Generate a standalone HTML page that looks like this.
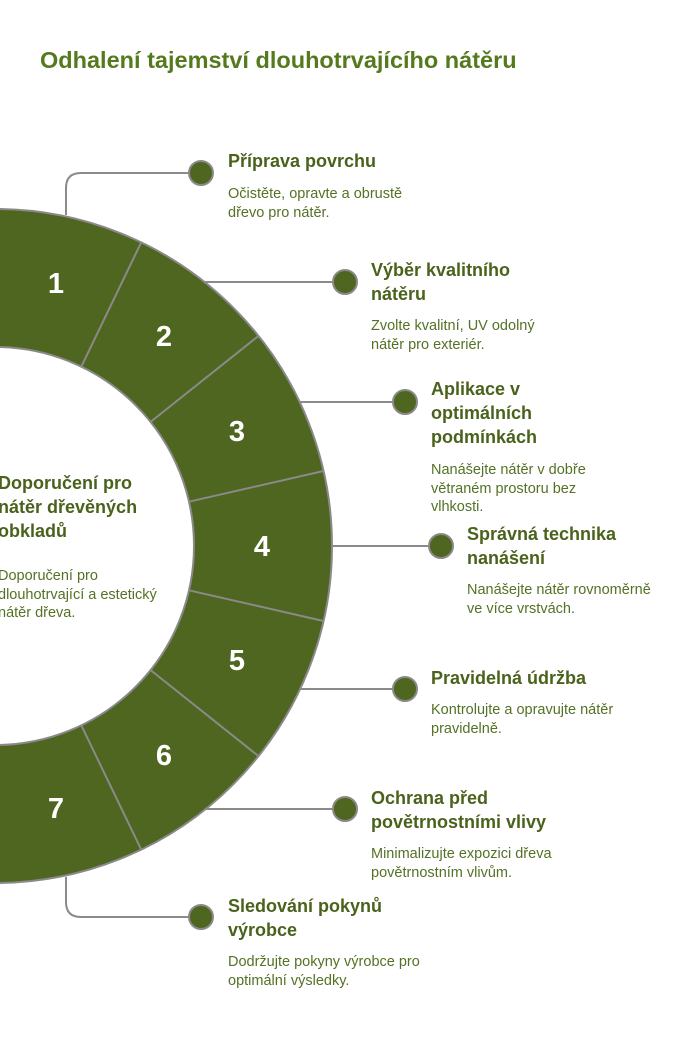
<!DOCTYPE html>
<html><head><meta charset="utf-8"><style>
body{margin:0;width:686px;height:1038px;background:#fff;position:relative;overflow:hidden;font-family:"Liberation Sans",sans-serif;color:#4f6a1f}
svg{position:absolute;left:0;top:0}
.t{position:absolute;font-weight:bold;font-size:18px;line-height:24px;color:#4a621c;white-space:nowrap}
.d{position:absolute;font-size:14.5px;line-height:18.5px;color:#557125;white-space:nowrap}
.h{position:absolute;left:40px;top:47px;font-size:23.5px;font-weight:bold;color:#557a1e;white-space:nowrap}
</style></head><body>
<svg width="686" height="1038" viewBox="0 0 686 1038">
<g fill="none" stroke="#8a8a8a" stroke-width="2">
<path d="M66 215 V188 Q66 173 81 173 H201"/>
<path d="M66 877 V902 Q66 917 81 917 H201"/>
<line x1="205" y1="282" x2="345" y2="282"/>
<line x1="300" y1="402" x2="405" y2="402"/>
<line x1="330" y1="546" x2="441" y2="546"/>
<line x1="300" y1="689" x2="405" y2="689"/>
<line x1="205" y1="809" x2="345" y2="809"/>
</g>
<path d="M-5 209 A337 337 0 0 1 -5 883 A337 337 0 0 1 -5 209 Z M-5 347 A199 199 0 0 0 -5 745 A199 199 0 0 0 -5 347 Z" fill="#4f6620" fill-rule="evenodd" stroke="#8a8a8a" stroke-width="2"/>
<g stroke="#8a8a8a" stroke-width="2">
<line x1="141.2" y1="242.4" x2="81.3" y2="366.7"/>
<line x1="258.5" y1="335.9" x2="150.6" y2="421.9"/>
<line x1="323.5" y1="471" x2="189" y2="501.7"/>
<line x1="323.5" y1="621" x2="189" y2="590.3"/>
<line x1="258.5" y1="756.1" x2="150.6" y2="670.1"/>
<line x1="141.2" y1="849.6" x2="81.3" y2="725.3"/>
</g>
<g fill="#4f6620" stroke="#8a8a8a" stroke-width="2">
<circle cx="201" cy="173" r="12"/><circle cx="345" cy="282" r="12"/><circle cx="405" cy="402" r="12"/>
<circle cx="441" cy="546" r="12"/><circle cx="405" cy="689" r="12"/><circle cx="345" cy="809" r="12"/><circle cx="201" cy="917" r="12"/>
</g>
<g fill="#fff" font-family="Liberation Sans, sans-serif" font-weight="bold" font-size="29" text-anchor="middle" dominant-baseline="central">
<text x="56" y="284">1</text><text x="164" y="337">2</text><text x="237" y="432">3</text><text x="262" y="547">4</text>
<text x="237" y="661">5</text><text x="164" y="756">6</text><text x="56" y="809">7</text>
</g>
</svg>
<div class="h">Odhalení tajemství dlouhotrvajícího nátěru</div>
<div class="t" style="left:228px;top:149px">Příprava povrchu</div>
<div class="d" style="left:228px;top:185px">Očistěte, opravte a obrustě<br>dřevo pro nátěr.</div>
<div class="t" style="left:371px;top:258px">Výběr kvalitního<br>nátěru</div>
<div class="d" style="left:371px;top:317px">Zvolte kvalitní, UV odolný<br>nátěr pro exteriér.</div>
<div class="t" style="left:431px;top:377px">Aplikace v<br>optimálních<br>podmínkách</div>
<div class="d" style="left:431px;top:461px">Nanášejte nátěr v dobře<br>větraném prostoru bez<br>vlhkosti.</div>
<div class="t" style="left:467px;top:522px">Správná technika<br>nanášení</div>
<div class="d" style="left:467px;top:581px">Nanášejte nátěr rovnoměrně<br>ve více vrstvách.</div>
<div class="t" style="left:431px;top:666px">Pravidelná údržba</div>
<div class="d" style="left:431px;top:701px">Kontrolujte a opravujte nátěr<br>pravidelně.</div>
<div class="t" style="left:371px;top:786px">Ochrana před<br>povětrnostními vlivy</div>
<div class="d" style="left:371px;top:845px">Minimalizujte expozici dřeva<br>povětrnostním vlivům.</div>
<div class="t" style="left:228px;top:894px">Sledování pokynů<br>výrobce</div>
<div class="d" style="left:228px;top:953px">Dodržujte pokyny výrobce pro<br>optimální výsledky.</div>
<div class="t" style="left:-2px;top:471px">Doporučení pro<br>nátěr dřevěných<br>obkladů</div>
<div class="d" style="left:-2px;top:567px">Doporučení pro<br>dlouhotrvající a estetický<br>nátěr dřeva.</div>
</body></html>
